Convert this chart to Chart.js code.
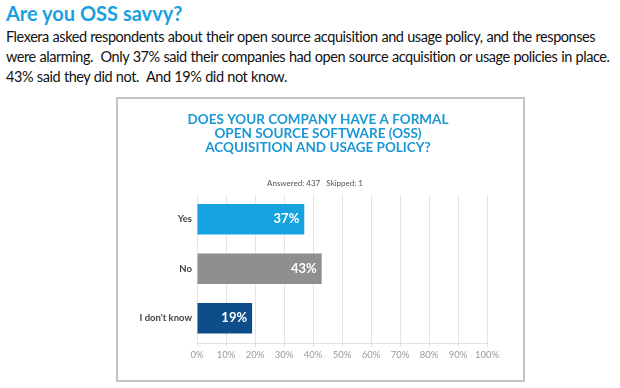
<!DOCTYPE html>
<html lang="en">
<head>
<meta charset="UTF-8">
<title>Are you OSS savvy?</title>
<script src="https://cdn.jsdelivr.net/npm/chart.js"></script>
<style>
  body { margin: 0; background: #fff; font-family: Lato, "Liberation Sans", sans-serif; }
  #head { position: absolute; left: 6px; top: 0; white-space: nowrap; }
  #head h1 { margin: 0; font-size: 20px; line-height: 27px; color: #1a9fe0; font-weight: bold; }
  #head p { margin: 0; font-size: 14.5px; line-height: 20px; color: #111; letter-spacing: -0.45px; word-spacing: 0.5px; }
  #box { position: absolute; left: 116px; top: 97px; width: 405px; height: 281px; border: 2px solid #c4c4c4; }
  #box canvas { display: block; }
</style>
</head>
<body>
<div id="head">
  <h1>Are you OSS savvy?</h1>
  <p>Flexera asked respondents about their open source acquisition and usage policy, and the responses<br>
  were alarming.&nbsp; Only 37% said their companies had open source acquisition or usage policies in place.<br>
  43% said they did not.&nbsp; And 19% did not know.</p>
</div>
<div id="box"><canvas id="ossChart" width="400" height="281"></canvas></div>

<script>
  // données
  const answers = ['Yes', 'No', "I don't know"];
  const percents = [37, 43, 19];
  const barColors = ['#16a2de', '#8f8f8f', '#0d4e8a'];
  const chartTitle = ['DOES YOUR COMPANY HAVE A FORMAL', 'OPEN SOURCE SOFTWARE (OSS)', 'ACQUISITION AND USAGE POLICY?'];
  const chartSubtitle = 'Answered: 437   Skipped: 1';

  // titre centré sur le cadre (le titre intégré se centre sur la zone moins le padding)
  const heading = {
    id: 'heading',
    afterDraw(chart) {
      const ctx = chart.ctx;
      const cx = chart.width / 2;
      ctx.save();
      ctx.textAlign = 'center';
      ctx.textBaseline = 'middle';
      ctx.fillStyle = '#1b98d4';
      ctx.font = 'bold 13.5px Lato, sans-serif';
      chartTitle.forEach((line, i) => ctx.fillText(line, cx, 21 + i * 14));
      ctx.fillStyle = '#555';
      ctx.font = '8px Lato, sans-serif';
      ctx.fillText(chartSubtitle, cx - 3, 84);
      ctx.restore();
    }
  };

  // étiquettes blanches au bout des barres
  const barLabels = {
    id: 'barLabels',
    afterDatasetsDraw(chart) {
      const ctx = chart.ctx;
      const meta = chart.getDatasetMeta(0);
      ctx.save();
      ctx.fillStyle = '#fff';
      ctx.font = 'bold 13px Lato, sans-serif';
      ctx.textAlign = 'right';
      ctx.textBaseline = 'middle';
      meta.data.forEach((bar, i) => {
        ctx.fillText(percents[i] + '%', bar.x - 5, bar.y);
      });
      ctx.restore();
    }
  };

  new Chart(document.getElementById('ossChart'), {
    type: 'bar',
    data: {
      labels: answers,
      datasets: [{
        data: percents,
        backgroundColor: barColors,
        categoryPercentage: 1,
        barPercentage: 0.62
      }]
    },
    options: {
      indexAxis: 'y',
      responsive: false,
      animation: false,
      layout: { padding: { left: 0, right: 31, top: 95.5, bottom: 12 } },
      plugins: {
        legend: { display: false },
        tooltip: { enabled: false }
      },
      scales: {
        x: {
          min: 0,
          max: 100,
          ticks: {
            stepSize: 10, callback: v => v + '%', color: '#9a9a9a',
            font: { family: 'Lato', size: 9.5 }, padding: 2,
            maxRotation: 0, minRotation: 0, autoSkip: false
          },
          grid: { color: '#e4e4e4', tickLength: 4 },
          border: { color: '#e0e0e0' },
          afterFit: s => { s.height = 25; }
        },
        y: {
          ticks: { color: '#444', font: { family: 'Lato', size: 9.5, weight: 'bold' }, padding: 5 },
          grid: { display: false, drawTicks: false },
          border: { color: '#e4e4e4' },
          afterFit: s => { s.width = 79; }
        }
      }
    },
    plugins: [barLabels, heading]
  });
</script>
</body>
</html>
